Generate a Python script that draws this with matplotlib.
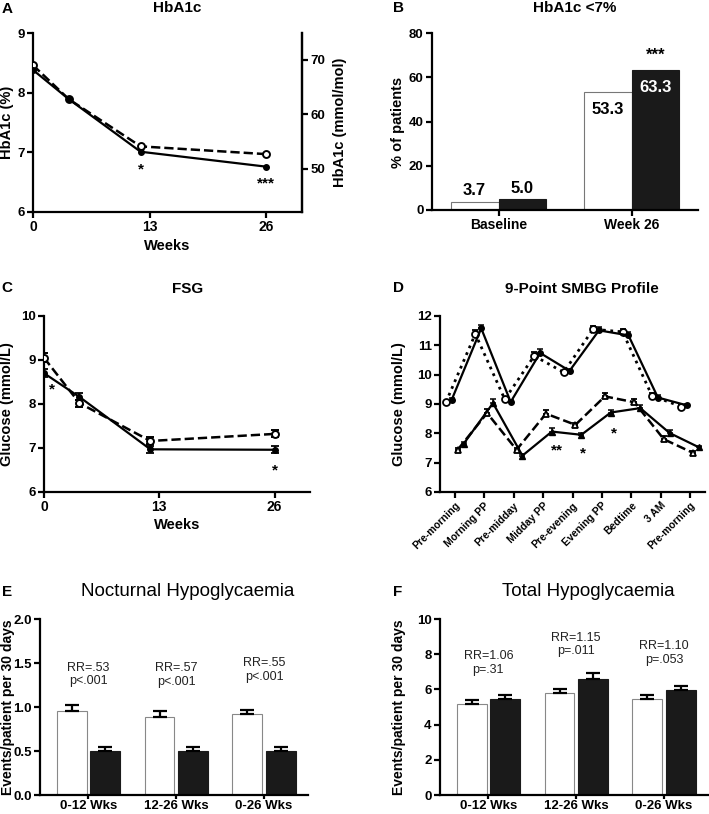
import numpy as np
import matplotlib.pyplot as plt

plt.rcParams['font.family'] = ['Liberation Sans', 'DejaVu Sans']
plt.rcParams['font.weight'] = 'bold'
plt.rcParams['axes.labelweight'] = 'bold'
plt.rcParams['axes.linewidth'] = 1.6
plt.rcParams['xtick.major.width'] = 1.6
plt.rcParams['ytick.major.width'] = 1.6
plt.rcParams['xtick.major.size'] = 4
plt.rcParams['ytick.major.size'] = 4
plt.rcParams['xtick.major.pad'] = 2
plt.rcParams['ytick.major.pad'] = 2
plt.rcParams['xtick.labelsize'] = 10
plt.rcParams['ytick.labelsize'] = 9.5

# ---- data ----
# A: HbA1c
weeks_a = [0, 4, 12, 26]
hba1c_solid = [8.38, 7.89, 7.01, 6.76]
hba1c_dashed = [8.46, 7.89, 7.10, 6.97]

# B: HbA1c <7%
b_groups = ['Baseline', 'Week 26']
b_white = [3.7, 53.3]
b_black = [5.0, 63.3]

# C: FSG
weeks_c = [0, 4, 12, 26]
fsg_solid = [8.70, 8.16, 6.97, 6.96]
fsg_solid_err = [0.09, 0.08, 0.08, 0.08]
fsg_dashed = [9.05, 8.02, 7.16, 7.32]
fsg_dashed_err = [0.10, 0.08, 0.08, 0.08]

# D: 9-point SMBG profile
smbg_labels = ['Pre-morning', 'Morning PP', 'Pre-midday', 'Midday PP', 'Pre-evening',
               'Evening PP', 'Bedtime', '3 AM', 'Pre-morning']
circ_open = [9.06, 11.39, 9.16, 10.64, 10.08, 11.55, 11.46, 9.28, 8.91]
circ_filled = [9.15, 11.58, 9.07, 10.74, 10.13, 11.51, 11.34, 9.22, 8.95]
circ_err = [0.05, 0.12, 0.06, 0.12, 0.06, 0.12, 0.10, 0.08, 0.06]
tri_open = [7.44, 8.69, 7.44, 8.67, 8.29, 9.26, 9.06, 7.80, 7.33]
tri_filled = [7.64, 9.03, 7.24, 8.06, 7.95, 8.71, 8.86, 8.01, 7.52]
tri_err = [0.05, 0.13, 0.06, 0.12, 0.06, 0.10, 0.10, 0.10, 0.06]

# E: Nocturnal hypoglycaemia
hypo_groups = ['0-12 Wks', '12-26 Wks', '0-26 Wks']
noct_white = [0.96, 0.89, 0.92]
noct_white_err = [0.06, 0.06, 0.05]
noct_black = [0.50, 0.50, 0.50]
noct_black_err = [0.05, 0.05, 0.04]
noct_text = ['RR=.53\np<.001', 'RR=.57\np<.001', 'RR=.55\np<.001']
noct_text_y = [1.37, 1.36, 1.42]

# F: Total hypoglycaemia
tot_white = [5.17, 5.78, 5.44]
tot_white_err = [0.20, 0.24, 0.22]
tot_black = [5.44, 6.61, 5.97]
tot_black_err = [0.24, 0.30, 0.24]
tot_text = ['RR=1.06\np=.31', 'RR=1.15\np=.011', 'RR=1.10\np=.053']
tot_text_y = [7.5, 8.55, 8.07]

W, H = 709, 814
fig = plt.figure(figsize=(W / 100, H / 100), dpi=100)


def add_axes(left, right, top, bottom):
    ax = fig.add_axes([left / W, 1 - bottom / H, (right - left) / W, (bottom - top) / H])
    ax.spines['top'].set_visible(False)
    ax.spines['right'].set_visible(False)
    return ax


def ftext(x, y, s, **kw):
    fig.text(x / W, 1 - y / H, s, ha='center', va='center', **kw)


# ---- A ----
ax = add_axes(33, 302, 33, 212)
ax.plot(weeks_a, hba1c_dashed, 'k--', lw=1.8, marker='o', ms=5, mfc='white', mew=1.4, zorder=3)
ax.plot(weeks_a, hba1c_solid, 'k-', lw=1.6, marker='o', ms=4, mfc='black', zorder=3)
ax.set_xlim(0, 30)
ax.set_ylim(6, 9)
ax.set_xticks([0, 13, 26])
ax.set_yticks([6, 7, 8, 9])
ax.spines['right'].set_visible(True)
ax.text(12, 6.72, '*', ha='center', va='center', fontsize=11)
ax.text(26, 6.48, '***', ha='center', va='center', fontsize=11)
sec = ax.secondary_yaxis('right', functions=(lambda p: 10.929 * (p - 2.15),
                                             lambda m: m / 10.929 + 2.15))
sec.set_yticks([50, 60, 70])
sec.spines['right'].set_linewidth(1.6)
ftext(7, 9, 'A', fontsize=11)
ftext(177, 8, 'HbA1c', fontsize=11)
ftext(7, 122, 'HbA1c (%)', fontsize=10.5, rotation=90)
ftext(340, 122, 'HbA1c (mmol/mol)', fontsize=10.5, rotation=90)
ftext(167, 246, 'Weeks', fontsize=10.5)

# ---- B ----
ax = add_axes(432, 698, 33, 210)
xb = np.arange(len(b_groups))
bw = 0.36
ax.bar(xb - bw / 2, b_white, bw, color='white', edgecolor='#777777', lw=0.8)
ax.bar(xb + bw / 2, b_black, bw, color='#1a1a1a', edgecolor='#1a1a1a', lw=0.8)
ax.set_xlim(-0.5, 1.5)
ax.set_ylim(0, 80)
ax.set_xticks(xb)
ax.set_xticklabels(b_groups)
ax.set_yticks([0, 20, 40, 60, 80])
ax.text(xb[0] - bw / 2, b_white[0] + 1.5, f'{b_white[0]:.1f}', ha='center', va='bottom', fontsize=12)
ax.text(xb[0] + bw / 2, b_black[0] + 1.5, f'{b_black[0]:.1f}', ha='center', va='bottom', fontsize=12)
ax.text(xb[1] - bw / 2, b_white[1] - 8, f'{b_white[1]:.1f}', ha='center', va='center', fontsize=12)
ax.text(xb[1] + bw / 2, b_black[1] - 8, f'{b_black[1]:.1f}', ha='center', va='center',
        fontsize=12, color='white')
ax.text(xb[1] + bw / 2, b_black[1] + 6.5, '***', ha='center', va='center', fontsize=12)
ftext(398, 8, 'B', fontsize=11)
ftext(575, 8, 'HbA1c <7%', fontsize=11)
ftext(398, 122, '% of patients', fontsize=10.5, rotation=90)

# ---- C ----
ax = add_axes(44, 310, 316, 492)
ax.errorbar(weeks_c, fsg_dashed, yerr=fsg_dashed_err, fmt='k--', lw=1.8, marker='o', ms=5,
            mfc='white', mew=1.4, capsize=3, elinewidth=1.3, capthick=1.3, zorder=3)
ax.errorbar(weeks_c, fsg_solid, yerr=fsg_solid_err, fmt='k-', lw=1.6, marker='o', ms=4,
            mfc='black', capsize=3, elinewidth=1.3, capthick=1.3, zorder=3)
ax.set_xlim(0, 30)
ax.set_ylim(6, 10)
ax.set_xticks([0, 13, 26])
ax.set_yticks([6, 7, 8, 9, 10])
ax.text(0.85, 8.33, '*', ha='center', va='center', fontsize=11)
ax.text(26, 6.5, '*', ha='center', va='center', fontsize=11)
ftext(7, 288, 'C', fontsize=11)
ftext(188, 289, 'FSG', fontsize=11)
ftext(7, 404, 'Glucose (mmol/L)', fontsize=10.5, rotation=90)
ftext(177, 525, 'Weeks', fontsize=10.5)

# ---- D ----
ax = add_axes(440, 705, 316, 492)
xd = np.arange(len(smbg_labels))
ek = dict(capsize=2.5, elinewidth=1.1, capthick=1.1, color='black', zorder=3)
ax.errorbar(xd - 0.3, circ_open, yerr=[np.zeros(9), circ_err], ls=':', lw=2, marker='o', ms=5,
            mfc='white', mew=1.3, **ek)
ax.errorbar(xd - 0.1, circ_filled, yerr=[np.zeros(9), circ_err], ls='-', lw=1.6, marker='o', ms=4,
            mfc='black', **ek)
ax.errorbar(xd + 0.1, tri_open, yerr=[np.zeros(9), tri_err], ls='--', lw=1.8, marker='^', ms=5,
            mfc='white', mew=1.3, **ek)
ax.errorbar(xd + 0.3, tri_filled, yerr=[np.zeros(9), tri_err], ls='-', lw=1.6, marker='^', ms=4,
            mfc='black', **ek)
ax.set_xlim(-0.5, 8.5)
ax.set_ylim(6, 12)
ax.set_xticks(xd)
ax.set_xticklabels(smbg_labels, rotation=45, ha='right', rotation_mode='anchor', fontsize=7.5)
ax.set_yticks([6, 7, 8, 9, 10, 11, 12])
ax.text(3.47, 7.4, '**', ha='center', va='center', fontsize=11)
ax.text(4.37, 7.33, '*', ha='center', va='center', fontsize=11)
ax.text(5.42, 7.98, '*', ha='center', va='center', fontsize=11)
ftext(398, 288, 'D', fontsize=11)
ftext(582, 289, '9-Point SMBG Profile', fontsize=11)
ftext(399, 404, 'Glucose (mmol/L)', fontsize=10.5, rotation=90)


# ---- E / F ----
def hypo_panel(left, right, white, werr, black, berr, ymax, yticks, ticklabels, texts, text_y):
    ax = add_axes(left, right, 619, 795)
    xh = np.arange(len(hypo_groups))
    hw = 0.34
    ax.bar(xh - 0.19, white, hw, color='white', edgecolor='#888888', lw=0.8,
           yerr=[np.zeros(3), werr], capsize=5,
           error_kw=dict(elinewidth=1.6, capthick=1.6, ecolor='black'))
    ax.bar(xh + 0.19, black, hw, color='#1a1a1a', edgecolor='#1a1a1a', lw=0.8,
           yerr=[np.zeros(3), berr], capsize=5,
           error_kw=dict(elinewidth=1.6, capthick=1.6, ecolor='black'))
    ax.set_xlim(-0.55, 2.5)
    ax.set_ylim(0, ymax)
    ax.set_xticks(xh)
    ax.set_xticklabels(hypo_groups, fontsize=9.5)
    ax.tick_params(axis='x', length=3, pad=0.5)
    ax.set_yticks(yticks)
    ax.set_yticklabels(ticklabels)
    for xi, s, yy in zip(xh, texts, text_y):
        ax.text(xi, yy, s, ha='center', va='center', fontsize=9, fontweight='normal',
                color='#222222', linespacing=1.2)
    return ax


hypo_panel(40, 308, noct_white, noct_white_err, noct_black, noct_black_err, 2.0,
           [0, 0.5, 1.0, 1.5, 2.0], ['0.0', '0.5', '1.0', '1.5', '2.0'], noct_text, noct_text_y)
ftext(7, 592, 'E', fontsize=11)
ftext(188, 592, 'Nocturnal Hypoglycaemia', fontsize=13.5, fontweight='normal')
ftext(8, 707, 'Events/patient per 30 days', fontsize=10, rotation=90)

hypo_panel(440, 708, tot_white, tot_white_err, tot_black, tot_black_err, 10,
           [0, 2, 4, 6, 8, 10], ['0', '2', '4', '6', '8', '10'], tot_text, tot_text_y)
ftext(398, 592, 'F', fontsize=11)
ftext(588, 592, 'Total Hypoglycaemia', fontsize=13.5, fontweight='normal')
ftext(399, 707, 'Events/patient per 30 days', fontsize=10, rotation=90)

fig.savefig('out.png', dpi=100)
